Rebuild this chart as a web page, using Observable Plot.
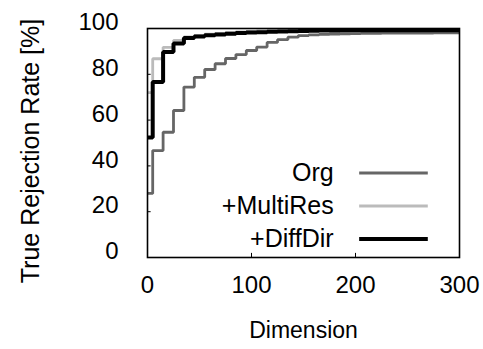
<!DOCTYPE html>
<html>
<head>
<meta charset="utf-8">
<script src="https://cdn.jsdelivr.net/npm/d3@7"></script>
<script src="https://cdn.jsdelivr.net/npm/@observablehq/plot@0.6"></script>
<style>
  html, body { margin: 0; padding: 0; background: #fff; }
  svg { font-family: "Liberation Sans", Arial, sans-serif; }
</style>
</head>
<body>
<div id="chart"></div>
<script>
// Dimension sample points (step positions)
const dims = [0, 5, 15, 25, 35, 45, 55, 65, 75, 85, 95, 105, 115, 125, 135, 145, 155, 165, 175, 185, 195, 205, 215, 225, 235, 245, 255, 265, 275, 285, 295, 300];

const org = [28, 46.7, 54.7, 64.2, 74.4, 78.7, 82.1, 84.6, 86.9, 88.6, 90.4, 91.9, 93.9, 95.1, 96.2, 96.9, 97.2, 97.4, 97.6, 97.7, 97.8, 97.9, 97.9, 98.0, 98.0, 98.0, 98.0, 98.0, 98.1, 98.1, 98.1, 98.1];
const multiRes = [72, 86.8, 91.8, 94.8, 96.3, 97.0, 97.5, 97.9, 98.2, 98.5, 98.7, 98.9, 99.1, 99.2, 99.3, 99.4, 99.4, 99.5, 99.5, 99.5, 99.6, 99.6, 99.6, 99.6, 99.6, 99.6, 99.6, 99.6, 99.6, 99.6, 99.6, 99.6];
const diffDir = [52.4, 76.6, 89.7, 93.4, 95.8, 96.5, 97.0, 97.4, 97.7, 98.0, 98.2, 98.4, 98.6, 98.7, 98.8, 98.9, 99.0, 99.1, 99.1, 99.2, 99.2, 99.2, 99.2, 99.2, 99.2, 99.2, 99.2, 99.2, 99.2, 99.2, 99.2, 99.2];

const seriesNames = ["Org", "+MultiRes", "+DiffDir"];
const seriesValues = [org, multiRes, diffDir];
const seriesColors = ["#666666", "#bbbbbb", "#000000"];
const seriesWidths = [2.8, 2.8, 4];

const xTicks = [0, 100, 200, 300];
const yTicks = [0, 20, 40, 60, 80, 100];
const xTitle = "Dimension";
const yTitle = "True Rejection Rate [%]";

// legend placement in data units
const legendTextX = 179;
const legendLineX1 = 204;
const legendLineX2 = 270;
const legendY = [36.9, 22.5, 8.1];

const rows = [];
seriesNames.forEach((name, s) => {
  dims.forEach((d, i) => rows.push({series: name, dim: d, rate: seriesValues[s][i]}));
});

const legendRows = seriesNames.map((name, s) => ({series: name, y: legendY[s]}));

const lineMarks = [0, 1, 2].map(s => Plot.line(rows.filter(r => r.series === seriesNames[s]), {
  x: "dim", y: "rate", curve: "step-after",
  stroke: seriesColors[s], strokeWidth: seriesWidths[s], strokeLinejoin: "miter", strokeLinecap: "butt"
}));

const legendLines = seriesNames.map((name, s) => Plot.ruleY([legendRows[s]], {
  y: "y", x1: legendLineX1, x2: legendLineX2,
  stroke: seriesColors[s], strokeWidth: seriesWidths[s]
}));

const chart = Plot.plot({
  width: 483,
  height: 349,
  marginLeft: 147,
  marginRight: 24,
  marginTop: 28,
  marginBottom: 92,
  style: {fontFamily: "'Liberation Sans', Arial, sans-serif", background: "#fff", color: "#000"},
  x: {domain: [0, 300]},
  y: {domain: [0, 100]},
  marks: [
    Plot.ruleY(yTicks.slice(1, -1), {x1: 0, x2: 3.5, stroke: "#000", strokeWidth: 1}),
    Plot.ruleX(xTicks.slice(1, -1), {y1: 0, y2: 1.8, stroke: "#000", strokeWidth: 1}),
    ...lineMarks,
    Plot.frame({stroke: "#000", strokeWidth: 1.6}),
    Plot.axisY(yTicks, {tickSize: 0, tickPadding: 29, dy: -6, fontSize: 24, label: null}),
    Plot.axisX(xTicks, {tickSize: 0, tickPadding: 18, fontSize: 24, label: null}),
    Plot.text([yTitle], {frameAnchor: "left", text: d => d, rotate: -90, dx: -117, dy: 8, textAnchor: "middle", lineAnchor: "middle", fontSize: 25, fill: "#000"}),
    Plot.text([xTitle], {frameAnchor: "bottom", text: d => d, dy: 73, textAnchor: "middle", lineAnchor: "middle", fontSize: 23, fill: "#000"}),
    Plot.text(legendRows, {x: legendTextX, y: "y", text: "series", textAnchor: "end", fontSize: 25, fill: "#000"}),
    ...legendLines
  ]
});

document.getElementById("chart").appendChild(chart);
</script>
</body>
</html>
